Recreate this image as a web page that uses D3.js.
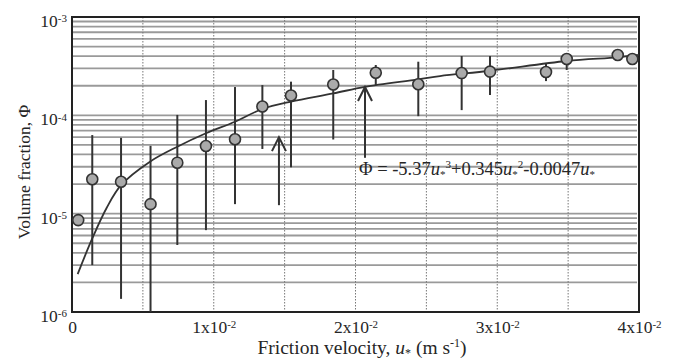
<!DOCTYPE html>
<html>
<head>
<meta charset="utf-8">
<script src="https://cdn.jsdelivr.net/npm/d3@7"></script>
<style>
  body { margin: 0; background: #fff; }
  text { font-family: "Liberation Serif", "DejaVu Serif", serif; fill: #262626; }
</style>
</head>
<body>
<div id="chart"></div>
<script>
// Measured points (friction velocity u*, volume fraction phi) with error bar ends
const uStar  = [0.00044, 0.00143, 0.00346, 0.00554, 0.00743, 0.00945, 0.0115, 0.01343, 0.01545,
                0.01843, 0.02143, 0.02443, 0.02749, 0.02949, 0.03344, 0.0349, 0.0385, 0.03953];
const phi    = [8.6e-6, 2.24e-5, 2.11e-5, 1.25e-5, 3.3e-5, 4.88e-5, 5.71e-5, 1.23e-4, 1.59e-4,
                2.06e-4, 2.71e-4, 2.07e-4, 2.69e-4, 2.78e-4, 2.76e-4, 3.74e-4, 4.11e-4, 3.74e-4];
const phiHi  = [null, 6.3e-5, 5.9e-5, 4.9e-5, 1.01e-4, 1.43e-4, 1.94e-4, 2.03e-4, 2.2e-4,
                2.89e-4, 3.25e-4, 3.51e-4, 4.01e-4, 4.01e-4, 3.4e-4, 4.3e-4, null, null];
const phiLo  = [null, 3.0e-6, 1.36e-6, 5e-7, 4.8e-6, 6.8e-6, 1.25e-5, 4.55e-5, 2.96e-5,
                5.68e-5, 2.03e-4, 9.8e-5, 1.13e-4, 1.61e-4, 2.23e-4, 2.89e-4, null, null];

// Fitted curve
const curveU   = [0.0004, 0.00143, 0.00245, 0.00346, 0.0055, 0.00743, 0.00945, 0.0115, 0.01343,
                  0.01545, 0.01843, 0.02067, 0.02443, 0.02596, 0.02949, 0.0349, 0.0385, 0.04];
const curvePhi = [2.43e-6, 5.6e-6, 1.15e-5, 1.95e-5, 3.38e-5, 4.8e-5, 6.57e-5, 8.61e-5, 1.16e-4,
                  1.38e-4, 1.67e-4, 1.95e-4, 2.32e-4, 2.51e-4, 2.84e-4, 3.57e-4, 3.89e-4, 4.11e-4];

// Annotation arrows (u*, tip, tail)
const arrowU    = [0.0146, 0.02067];
const arrowTip  = [6.0e-5, 1.94e-4];
const arrowTail = [1.22e-5, 3.7e-5];

// Axis ticks
const xTicks = [0, 0.01, 0.02, 0.03, 0.04];
const xTickLabels = [["0", ""], ["1x10", "-2"], ["2x10", "-2"], ["3x10", "-2"], ["4x10", "-2"]];
const xGrid = [0.005, 0.01, 0.015, 0.02, 0.025, 0.03, 0.035];
const yTicks = [1e-6, 1e-5, 1e-4, 1e-3];
const yTickExp = ["-6", "-5", "-4", "-3"];
const yDecades = [1e-6, 1e-5, 1e-4];
const yMinor = [1, 2, 3, 4, 5, 6, 7, 8, 9];

const width = 680, height = 360;
const margin = { top: 17, right: 41, bottom: 48, left: 72 };

const svg = d3.select("#chart").append("svg")
  .attr("width", width).attr("height", height);

const x = d3.scaleLinear().domain([0, 0.04]).range([margin.left, width - margin.right]);
const y = d3.scaleLog().domain([1e-6, 1e-3]).range([height - margin.bottom, margin.top]).clamp(true);

// Horizontal grid lines at every 1..9 x decade
const hLines = [];
yDecades.forEach(d => yMinor.forEach(m => hLines.push(d * m)));
svg.append("g").selectAll("line").data(hLines).enter().append("line")
  .attr("x1", x(0)).attr("x2", x(0.04) - 2)
  .attr("y1", d => y(d)).attr("y2", d => y(d))
  .style("stroke", "#9a9a9a").style("stroke-width", 1.8);

// Dotted vertical grid lines
svg.append("g").selectAll("line").data(xGrid).enter().append("line")
  .attr("x1", d => x(d)).attr("x2", d => x(d))
  .attr("y1", y(1e-3)).attr("y2", y(1e-6))
  .style("stroke", "#777").style("stroke-width", 1)
  .style("stroke-dasharray", "1.5,1.5");

// Frame
svg.append("rect")
  .attr("x", x(0)).attr("y", y(1e-3))
  .attr("width", x(0.04) - x(0)).attr("height", y(1e-6) - y(1e-3))
  .style("fill", "none").style("stroke", "#222").style("stroke-width", 2);

// Axes (labels only)
const xAxis = svg.append("g")
  .attr("transform", `translate(0,${y(1e-6)})`)
  .call(d3.axisBottom(x).tickValues(xTicks).tickSize(0).tickPadding(9).tickFormat(""));
xAxis.select(".domain").remove();
xAxis.selectAll(".tick text").each(function (d, i) {
  const t = d3.select(this).style("font-size", "17.5px").style("fill", "#262626");
  t.text(null);
  t.append("tspan").text(xTickLabels[i][0]);
  if (xTickLabels[i][1]) t.append("tspan").attr("dy", "-0.45em").style("font-size", "11px").text(xTickLabels[i][1]);
});

const yAxis = svg.append("g")
  .attr("transform", `translate(${x(0)},0)`)
  .call(d3.axisLeft(y).tickValues(yTicks).tickSize(0).tickPadding(5).tickFormat(""));
yAxis.select(".domain").remove();
yAxis.selectAll(".tick text").each(function (d, i) {
  const t = d3.select(this).style("font-size", "17.5px").style("fill", "#262626").attr("dy", "0.55em");
  t.text(null);
  t.append("tspan").text("10");
  t.append("tspan").attr("dy", "-0.45em").style("font-size", "11px").text(yTickExp[i]);
});

// Fitted curve
const pts = curveU.map((u, i) => [u, curvePhi[i]]);
svg.append("path")
  .datum(pts)
  .attr("d", d3.line().x(d => x(d[0])).y(d => y(d[1])).curve(d3.curveCatmullRom.alpha(0.5)))
  .style("fill", "none").style("stroke", "#333").style("stroke-width", 1.8);

// Error bars
const obs = uStar.map((u, i) => ({ u: u, p: phi[i], hi: phiHi[i], lo: phiLo[i] }));
svg.append("g").selectAll("line").data(obs.filter(d => d.hi !== null)).enter().append("line")
  .attr("x1", d => x(d.u)).attr("x2", d => x(d.u))
  .attr("y1", d => y(d.hi)).attr("y2", d => y(d.lo))
  .style("stroke", "#333").style("stroke-width", 2);

// Markers
svg.append("g").selectAll("circle").data(obs).enter().append("circle")
  .attr("cx", d => x(d.u)).attr("cy", d => y(d.p)).attr("r", 5.5)
  .style("fill", "#aaa").style("stroke", "#333").style("stroke-width", 1.6);

// Arrows
arrowU.forEach((u, i) => {
  const ax = x(u), ty = y(arrowTip[i]), by = y(arrowTail[i]);
  const g = svg.append("g").style("stroke", "#333").style("stroke-width", 2).style("fill", "none");
  g.append("line").attr("x1", ax).attr("x2", ax).attr("y1", ty).attr("y2", by);
  g.append("path").attr("d", `M${ax - 7},${ty + 14}L${ax},${ty}L${ax + 7},${ty + 14}`);
});

// Rich text helper: parts = [text, style, baseline shift]
function richText(sel, parts, small) {
  let prev = 0;
  parts.forEach(p => {
    const ts = sel.append("tspan").text(p[0]);
    const shift = p[2] || 0;
    if (shift !== prev) ts.attr("dy", shift - prev);
    prev = shift;
    if (p[1] === "i") ts.style("font-style", "italic");
    if (p[1] === "sub" || p[1] === "sup") ts.style("font-size", small);
  });
}

// Equation
const eq = svg.append("text").attr("x", 359).attr("y", 175).style("font-size", "18.5px");
richText(eq, [
  ["Φ = -5.37"], ["u", "i"], ["*", "sub", 3], ["3", "sup", -7],
  ["+0.345", null, 0], ["u", "i"], ["*", "sub", 3], ["2", "sup", -7],
  ["-0.0047", null, 0], ["u", "i"], ["*", "sub", 3]
], "11px");

// Axis titles
const xt = svg.append("text").attr("x", 362).attr("y", 354)
  .attr("text-anchor", "middle").style("font-size", "19.5px");
richText(xt, [["Friction velocity, "], ["u", "i"], ["*", "sub", 3], [" (m s", null, 0], ["-1", "sup", -7], [")", null, 0]], "12px");

svg.append("text")
  .attr("transform", `translate(30,172) rotate(-90)`)
  .attr("text-anchor", "middle").style("font-size", "17.5px")
  .text("Volume fraction, Φ");
</script>
</body>
</html>
